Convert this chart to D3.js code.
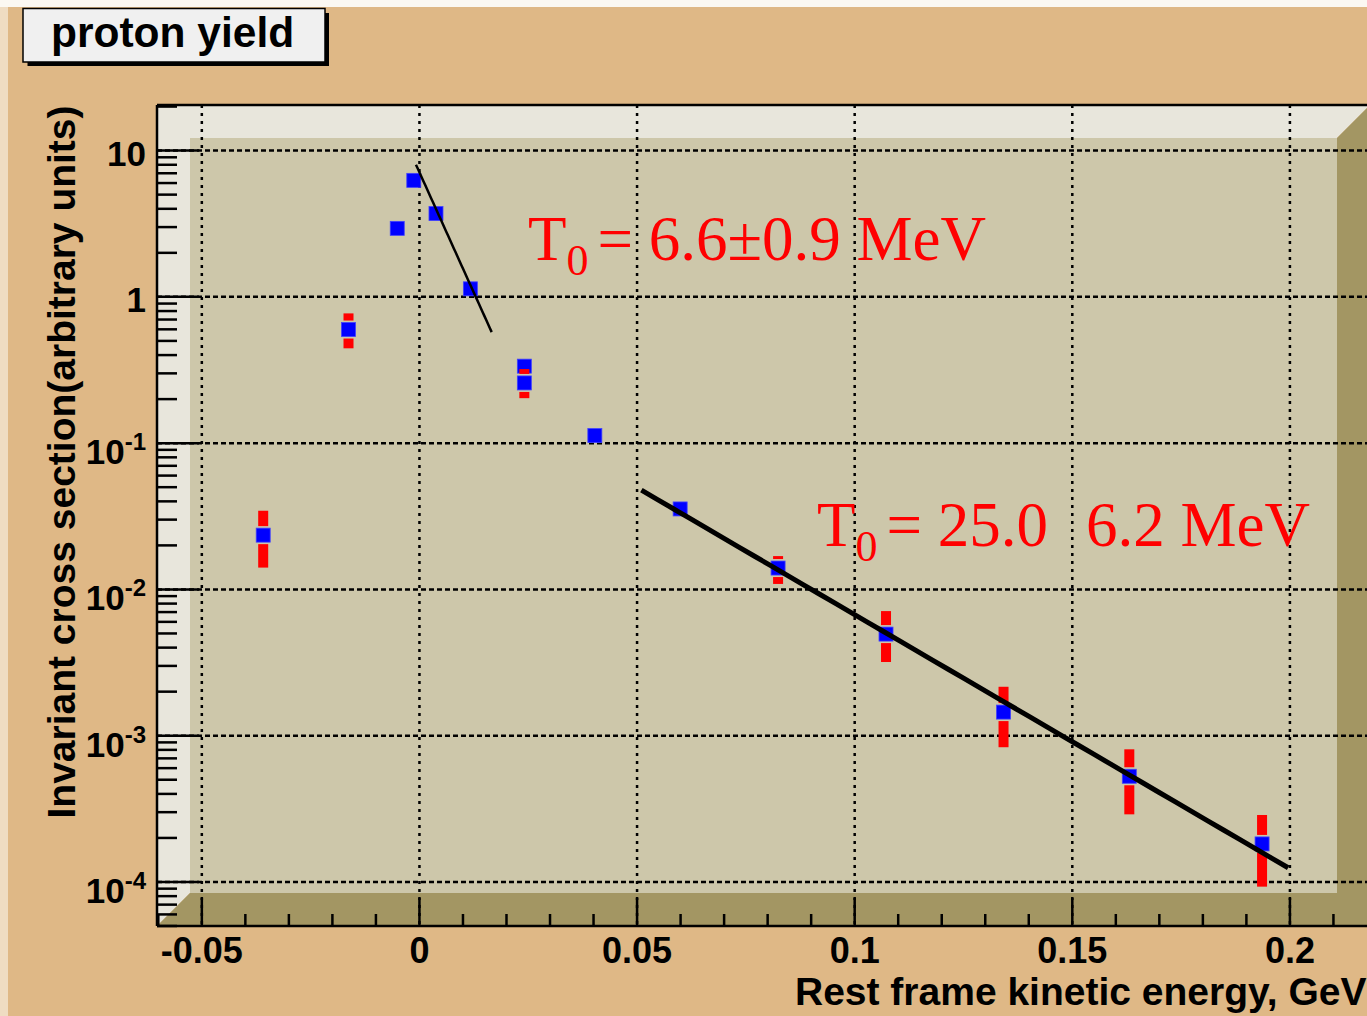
<!DOCTYPE html>
<html>
<head>
<meta charset="utf-8">
<script src="https://cdn.jsdelivr.net/npm/d3@7"></script>
<style>
  html, body { margin: 0; padding: 0; background: #dfb886; overflow: hidden; }
  svg { display: block; }
  text { white-space: pre; }
</style>
</head>
<body>
<svg id="chart" width="1367" height="1016"></svg>
<script>
// Proton yield vs rest-frame kinetic energy (GeV), log scale in y
const energy   = [-0.0359, -0.0163, -0.0051, -0.0013, 0.0038, 0.0117, 0.0241, 0.0241, 0.0403, 0.0599, 0.0824, 0.1072, 0.1342, 0.1631, 0.1936];
const yieldVal = [0.0235, 0.598, 2.94, 6.26, 3.71, 1.135, 0.336, 0.258, 0.1127, 0.0355, 0.0140, 0.00495, 0.00145, 0.000528, 0.000182];
const errLow   = [0.0141, 0.445, null, null, null, null, null, 0.203, null, null, 0.0109, 0.00319, 0.000834, 0.000290, 0.0000929];
const errHigh  = [0.0345, 0.771, null, null, null, null, null, 0.321, null, null, 0.0169, 0.00711, 0.00216, 0.000807, 0.000287];

// exponential fits  A * exp(-T / T0)
const fitT0    = [0.0066, 0.025];          // GeV
const fitAmp   = [7.1, 0.367];
const fitFrom  = [-0.0008, 0.051];
const fitTo    = [0.0166, 0.1996];
const fitWidth = [2.5, 5];

const xTicks      = [-0.05, 0, 0.05, 0.1, 0.15, 0.2];
const xTickLabels = ["-0.05", "0", "0.05", "0.1", "0.15", "0.2"];
const yTicks      = [10, 1, 0.1, 0.01, 0.001, 0.0001];
const yTickBase   = ["10", "1", "10", "10", "10", "10"];
const yTickExp    = ["", "", "-1", "-2", "-3", "-4"];

const titleText  = "proton yield";
const xTitleText = "Rest frame kinetic energy, GeV";
const yTitleText = "Invariant cross section(arbitrary units)";

const svg = d3.select("#chart");
const W = 1367, H = 1016;

const x = d3.scaleLinear().domain([-0.0603, 0.2184]).range([157, 1370]);
const y = d3.scaleLog().domain([5e-5, 20.5]).range([926, 105]);

const L = x.range()[0], R = x.range()[1], T = y.range()[1], B = y.range()[0];
const bev = 33;
const sans = "'Liberation Sans', Arial, Helvetica, sans-serif";
const serif = "'Liberation Serif', 'Times New Roman', Times, serif";

// canvas with light top/left edge
svg.append("rect").attr("width", W).attr("height", H).attr("fill", "#dfb886");
svg.append("rect").attr("x", 0).attr("y", 0).attr("width", 8).attr("height", H).attr("fill", "#efdcc2");
svg.append("rect").attr("x", 0).attr("y", 0).attr("width", W).attr("height", 7).attr("fill", "#fbf8f2");

// raised frame: light top/left bevel, dark bottom/right bevel, flat inner pad
const line = d3.line();
svg.append("path")
  .attr("d", line([[L, T], [R, T], [R - bev, T + bev], [L + bev, T + bev], [L + bev, B - bev], [L, B]]) + "Z")
  .attr("fill", "#e8e6dc");
svg.append("path")
  .attr("d", line([[L, B], [L + bev, B - bev], [R - bev, B - bev], [R - bev, T + bev], [R, T], [R, B]]) + "Z")
  .attr("fill", "#a39663");
svg.append("rect")
  .attr("x", L + bev).attr("y", T + bev)
  .attr("width", R - L - 2 * bev).attr("height", B - T - 2 * bev)
  .attr("fill", "#cdc7aa");

// grid
const grid = svg.append("g").attr("stroke", "#000").attr("stroke-width", 2.5).attr("fill", "none");
grid.selectAll("line.v").data(xTicks).join("line")
  .attr("x1", d => x(d)).attr("x2", d => x(d))
  .attr("y1", T).attr("y2", B)
  .attr("stroke-dasharray", "3,5");
grid.selectAll("line.h").data(yTicks).join("line")
  .attr("x1", L).attr("x2", R)
  .attr("y1", d => y(d)).attr("y2", d => y(d))
  .attr("stroke-dasharray", "5,3");

// markers
const pts = energy.map((e, i) => ({ e, v: yieldVal[i], lo: errLow[i], hi: errHigh[i] }));
const ms = 14;
svg.append("g").selectAll("rect").data(pts).join("rect")
  .attr("x", d => x(d.e) - ms / 2).attr("y", d => y(d.v) - ms / 2)
  .attr("width", ms).attr("height", ms)
  .attr("fill", "#0000ff")
  .attr("stroke", "#4040ff").attr("stroke-width", 0.8);

// error bars (drawn with a gap around the point)
const gap = 9, ew = 10;
const eb = svg.append("g").attr("fill", "#ff0000");
pts.filter(d => d.lo != null).forEach(d => {
  const cx = x(d.e), cy = y(d.v);
  const yh = y(d.hi), yl = y(d.lo);
  if (cy - gap > yh) eb.append("rect").attr("x", cx - ew / 2).attr("y", yh).attr("width", ew).attr("height", cy - gap - yh);
  if (yl > cy + gap) eb.append("rect").attr("x", cx - ew / 2).attr("y", cy + gap).attr("width", ew).attr("height", yl - cy - gap);
});

// fit lines
fitT0.forEach((t0, i) => {
  const xs = d3.range(0, 41).map(k => fitFrom[i] + (fitTo[i] - fitFrom[i]) * k / 40);
  svg.append("path")
    .attr("d", d3.line().x(e => x(e)).y(e => y(fitAmp[i] * Math.exp(-e / t0)))(xs))
    .attr("fill", "none").attr("stroke", "#000").attr("stroke-width", fitWidth[i]);
});

// frame border
const ax = svg.append("g").attr("stroke", "#000").attr("stroke-width", 2.5).attr("fill", "none");
ax.append("line").attr("x1", L).attr("x2", R).attr("y1", T).attr("y2", T);
ax.append("line").attr("x1", L).attr("x2", L).attr("y1", T).attr("y2", B);
ax.append("line").attr("x1", L).attr("x2", R).attr("y1", B).attr("y2", B);
ax.append("line").attr("x1", R).attr("x2", R).attr("y1", T).attr("y2", B);

// x ticks
const xMinor = d3.range(-6, 22).map(k => k / 100).filter(v => !xTicks.some(t => Math.abs(t - v) < 1e-9) && v >= x.domain()[0] && v <= x.domain()[1]);
ax.selectAll("line.xmaj").data(xTicks).join("line")
  .attr("x1", d => x(d)).attr("x2", d => x(d)).attr("y1", B).attr("y2", B - 28);
ax.selectAll("line.xmin").data(xMinor).join("line")
  .attr("x1", d => x(d)).attr("x2", d => x(d)).attr("y1", B).attr("y2", B - 12);

// y ticks (log)
const yMinor = [];
for (let k = -5; k <= 1; k++) for (let m = 2; m <= 9; m++) {
  const v = m * Math.pow(10, k);
  if (v >= y.domain()[0] && v <= y.domain()[1]) yMinor.push(v);
}
ax.selectAll("line.ymaj").data(yTicks).join("line")
  .attr("x1", L).attr("x2", L + 42).attr("y1", d => y(d)).attr("y2", d => y(d));
ax.selectAll("line.ymin").data(yMinor).join("line")
  .attr("x1", L).attr("x2", L + 20).attr("y1", d => y(d)).attr("y2", d => y(d));

// tick labels
svg.append("g").selectAll("text").data(xTicks).join("text")
  .attr("x", d => x(d)).attr("y", 963)
  .attr("text-anchor", "middle")
  .attr("font-family", sans).attr("font-weight", "bold").attr("font-size", 36)
  .text((d, i) => xTickLabels[i]);

const yl = svg.append("g").selectAll("text").data(yTicks).join("text")
  .attr("x", 146)
  .attr("y", (d, i) => y(d) + (yTickExp[i] ? 21 : 15))
  .attr("text-anchor", "end")
  .attr("font-family", sans).attr("font-weight", "bold").attr("font-size", 35);
yl.append("tspan").text((d, i) => yTickBase[i]);
yl.filter((d, i) => yTickExp[i] !== "")
  .append("tspan").attr("dy", -14).attr("font-size", 24)
  .text(d => yTickExp[yTicks.indexOf(d)]);

// axis titles
svg.append("text")
  .attr("x", 795).attr("y", 1005)
  .attr("font-family", sans).attr("font-weight", "bold").attr("font-size", 39)
  .text(xTitleText);
svg.append("text")
  .attr("transform", "translate(75,462) rotate(-90)")
  .attr("text-anchor", "middle")
  .attr("font-family", sans).attr("font-weight", "bold").attr("font-size", 39)
  .text(yTitleText);

// fit result labels
function fitLabel(px, py, value, err) {
  const t = svg.append("text").attr("x", px).attr("y", py)
    .attr("font-family", serif).attr("font-size", 63).attr("fill", "#ff0000");
  t.append("tspan").text("T");
  t.append("tspan").attr("font-size", 44).attr("dy", 15).text("0");
  t.append("tspan").attr("dy", -15).attr("dx", 9).text("=");
  if (err.plusMinus) {
    t.append("tspan").text(" " + value + "\u00B1" + err.text + " MeV");
  } else {
    t.append("tspan").text(" " + value);
    t.append("tspan").attr("dx", 38).text(err.text + " MeV");
  }
}
fitLabel(528, 260, (fitT0[0] * 1000).toFixed(1), { text: "0.9", plusMinus: true });
fitLabel(817, 546, (fitT0[1] * 1000).toFixed(1), { text: "6.2", plusMinus: false });

// title box
svg.append("rect").attr("x", 27.5).attr("y", 13).attr("width", 301.5).attr("height", 53).attr("fill", "#000");
svg.append("rect").attr("x", 23).attr("y", 8.5).attr("width", 302).attr("height", 53.5)
  .attr("fill", "#f0f0f0").attr("stroke", "#000").attr("stroke-width", 1.5);
svg.append("text").attr("x", 51).attr("y", 47)
  .attr("font-family", sans).attr("font-weight", "bold").attr("font-size", 42.5)
  .text(titleText);
</script>
</body>
</html>
